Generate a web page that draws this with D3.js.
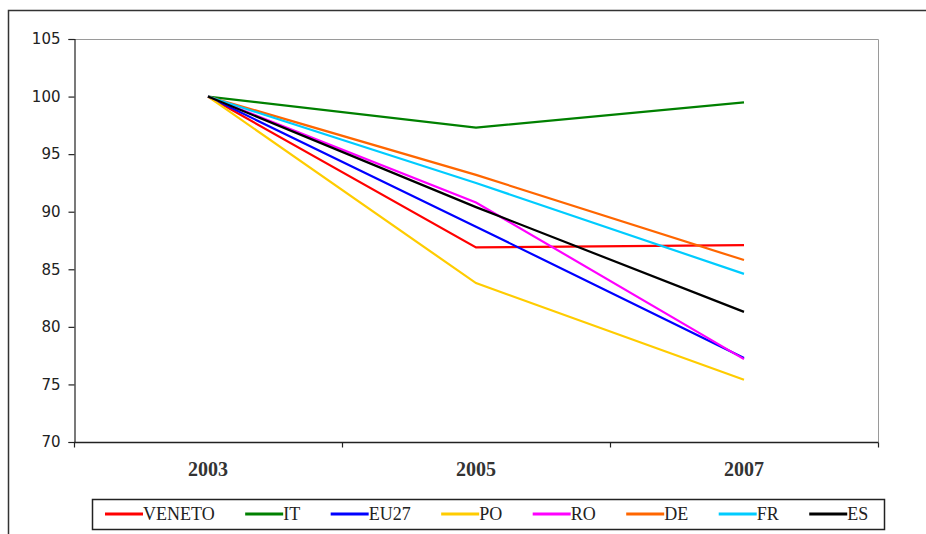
<!DOCTYPE html>
<html>
<head>
<meta charset="utf-8">
<script src="https://cdn.jsdelivr.net/npm/d3@7"></script>
<style>
  html, body { margin: 0; padding: 0; background: #fff; }
  svg { display: block; }
</style>
</head>
<body>
<svg id="chart" width="926" height="534"></svg>
<script>
// Index numbers, 2003 = 100
const years = ["2003", "2005", "2007"];
const seriesNames = ["VENETO", "IT", "EU27", "PO", "RO", "DE", "FR", "ES"];
const seriesColors = ["#ff0000", "#008000", "#0000ff", "#ffcc00", "#ff00ff", "#ff6600", "#00ccff", "#000000"];
const veneto = [100, 86.9, 87.1];
const it     = [100, 97.3, 99.5];
const eu27   = [100, 88.7, 77.3];
const po     = [100, 83.8, 75.4];
const ro     = [100, 90.8, 77.2];
const de     = [100, 93.2, 85.8];
const fr     = [100, 92.5, 84.6];
const es     = [100, 90.4, 81.3];
const yTicks = [70, 75, 80, 85, 90, 95, 100, 105];

const seriesValues = [veneto, it, eu27, po, ro, de, fr, es];
const series = seriesNames.map((name, i) => ({ name, color: seriesColors[i], values: seriesValues[i] }));

const svg = d3.select("#chart");

// outer chart frame
svg.append("rect")
  .attr("x", 8.5).attr("y", 10.5)
  .attr("width", 1000).attr("height", 600)
  .attr("fill", "none").attr("stroke", "#333").attr("stroke-width", 1.5);

const plot = { left: 74, right: 878, top: 39, bottom: 442 };

const x = d3.scaleBand().domain(years).range([plot.left, plot.right]);
const y = d3.scaleLinear().domain([70, 105]).range([plot.bottom, plot.top]);

// plot-area border (top and right)
svg.append("path")
  .attr("d", `M${plot.left},${plot.top + 0.5}H${plot.right + 0.5}V${plot.bottom}`)
  .attr("fill", "none").attr("stroke", "#9a9a9a").attr("stroke-width", 1);

// y axis
const yAxis = svg.append("g")
  .attr("transform", `translate(${plot.left + 0.5},0)`)
  .call(d3.axisLeft(y).tickValues(yTicks).tickSize(6).tickPadding(8));
yAxis.select(".domain").attr("stroke", "#222").attr("stroke-width", 1.2);
yAxis.selectAll(".tick line").attr("stroke", "#222").attr("stroke-width", 1.2);
yAxis.selectAll(".tick text")
  .attr("font-family", "'DejaVu Sans', Verdana, sans-serif")
  .attr("font-size", 15).attr("fill", "#222");

// x axis with ticks between categories
const xAxis = svg.append("g")
  .attr("transform", `translate(0,${plot.bottom + 0.5})`);
xAxis.append("line")
  .attr("x1", plot.left).attr("x2", plot.right + 0.5)
  .attr("stroke", "#222").attr("stroke-width", 1.4);
const bounds = d3.range(years.length + 1).map(i => x.range()[0] + i * x.step());
xAxis.selectAll(".bt").data(bounds).join("line")
  .attr("x1", d => d + 0.5).attr("x2", d => d + 0.5)
  .attr("y1", 0).attr("y2", 5)
  .attr("stroke", "#222").attr("stroke-width", 1.2);
xAxis.selectAll(".lbl").data(years).join("text")
  .attr("x", d => x(d) + x.bandwidth() / 2)
  .attr("y", 33)
  .attr("text-anchor", "middle")
  .attr("font-family", "'Liberation Serif', 'Times New Roman', serif")
  .attr("font-weight", "bold")
  .attr("font-size", 20).attr("fill", "#333")
  .text(d => d);

// series lines
const line = d3.line()
  .x((d, i) => x(years[i]) + x.bandwidth() / 2)
  .y(d => y(d));
svg.append("g").selectAll("path").data(series).join("path")
  .attr("d", d => line(d.values))
  .attr("fill", "none")
  .attr("stroke", d => d.color)
  .attr("stroke-width", 2.2)
  .attr("stroke-linejoin", "miter");

// legend
const legend = svg.append("g");
legend.append("rect")
  .attr("x", 92.5).attr("y", 499.5).attr("width", 792).attr("height", 30)
  .attr("fill", "#fff").attr("stroke", "#222").attr("stroke-width", 1.5);
let lx = 105;
series.forEach(s => {
  const g = legend.append("g");
  g.append("line")
    .attr("x1", lx).attr("x2", lx + 38)
    .attr("y1", 514).attr("y2", 514)
    .attr("stroke", s.color).attr("stroke-width", 3);
  const t = g.append("text")
    .attr("x", lx + 38).attr("y", 520)
    .attr("font-family", "'Liberation Serif', 'Times New Roman', serif")
    .attr("font-size", 18).attr("fill", "#222")
    .text(s.name);
  lx += 38 + t.node().getComputedTextLength() + 30.5;
});
</script>
</body>
</html>
